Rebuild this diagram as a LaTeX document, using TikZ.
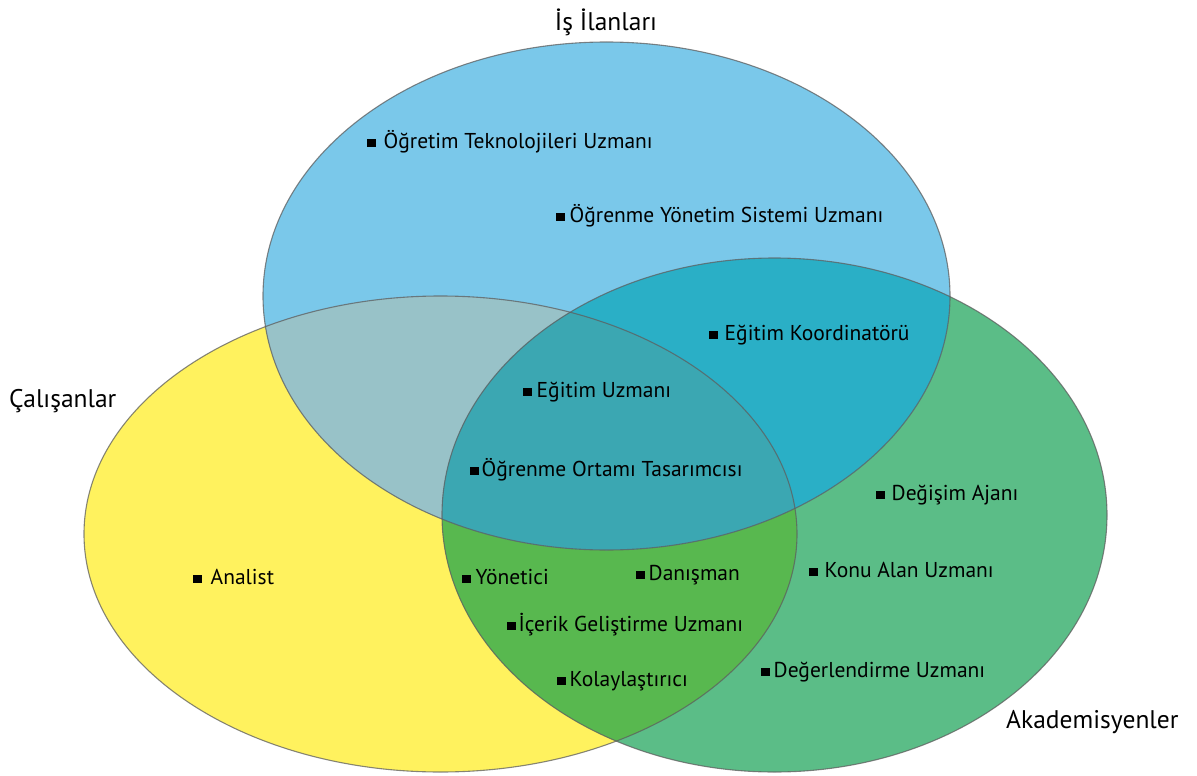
\documentclass[tikz,border=0pt]{standalone}
\usepackage{fontspec}
\setmainfont{PT Sans}
\definecolor{yel}{HTML}{FFF25E}
\definecolor{grn}{HTML}{5BBD87}
\definecolor{blu}{HTML}{7AC8EA}
\definecolor{yelblu}{HTML}{98C2C8}
\definecolor{grnblu}{HTML}{2AAFC6}
\definecolor{yelgrn}{HTML}{58B84F}
\definecolor{allthree}{HTML}{3BA7B2}
\definecolor{rimgray}{HTML}{5E5E5E}
% square bullet followed by a gap
\newcommand\sqb[1][6pt]{\rule[1.5pt]{8.5pt}{8.5pt}\hspace{#1}}
\begin{document}
\begin{tikzpicture}[x=1pt,y=-1pt,
  yelE/.style={insert path={(440.5,534) ellipse [x radius=356.5pt, y radius=238pt]}},
  grnE/.style={insert path={(774.5,515) ellipse [x radius=332.5pt, y radius=257pt]}},
  bluE/.style={insert path={(606.5,296) ellipse [x radius=343.5pt, y radius=254pt]}},
  rim/.style={draw=rimgray, line width=1.1pt, draw opacity=0.75},
  lbl/.style={anchor=mid west, inner sep=0pt, font=\fontsize{21.5}{24}\selectfont},
  ttl/.style={inner sep=0pt, font=\fontsize{25.5}{28}\selectfont}]
\useasboundingbox (0,0) rectangle (1197,776);

% the three sets
\path[fill=yel, yelE];
\path[fill=grn, grnE];
\path[fill=blu, bluE];

% pairwise overlaps
\begin{scope}
  \path[clip, yelE];
  \path[fill=yelgrn, grnE];
  \path[fill=yelblu, bluE];
\end{scope}
\begin{scope}
  \path[clip, grnE];
  \path[fill=grnblu, bluE];
\end{scope}
% common part of all three
\begin{scope}
  \path[clip, yelE];
  \path[clip, grnE];
  \path[fill=allthree, bluE];
\end{scope}

% outlines
\path[rim, yelE];
\path[rim, grnE];
\path[rim, bluE];

% set titles
\node[ttl] (isilan) at (606,22) {İş İlanları};
\node[ttl, anchor=west] (calisan) at (9,401) {Çalışanlar};
\node[ttl, anchor=west] (akad) at (1006,722) {Akademisyenler};

% roles
\node[lbl] (r1)  at (367,146) {\sqb[8pt]Öğretim Teknolojileri Uzmanı};
\node[lbl] (r2)  at (556,220) {\sqb[5pt]Öğrenme Yönetim Sistemi Uzmanı};
\node[lbl] (r3)  at (709,338) {\sqb[7pt]Eğitim Koordinatörü};
\node[lbl] (r4)  at (523,395) {\sqb[5pt]Eğitim Uzmanı};
\node[lbl] (r5)  at (470,474) {\sqb[3pt]Öğrenme Ortamı Tasarımcısı};
\node[lbl] (r6)  at (876,498) {\sqb[7pt]Değişim Ajanı};
\node[lbl] (r7)  at (193,582) {\sqb[9pt]Analist};
\node[lbl] (r8)  at (462,582) {\sqb[5pt]Yönetici};
\node[lbl] (r9)  at (636,578) {\sqb[4pt]Danışman};
\node[lbl] (r10) at (809,575) {\sqb[7pt]Konu Alan Uzmanı};
\node[lbl] (r11) at (507,629) {\sqb[3pt]İçerik Geliştirme Uzmanı};
\node[lbl] (r12) at (557,684) {\sqb[4pt]Kolaylaştırıcı};
\node[lbl] (r13) at (761,675) {\sqb[4pt]Değerlendirme Uzmanı};
\end{tikzpicture}
\end{document}
